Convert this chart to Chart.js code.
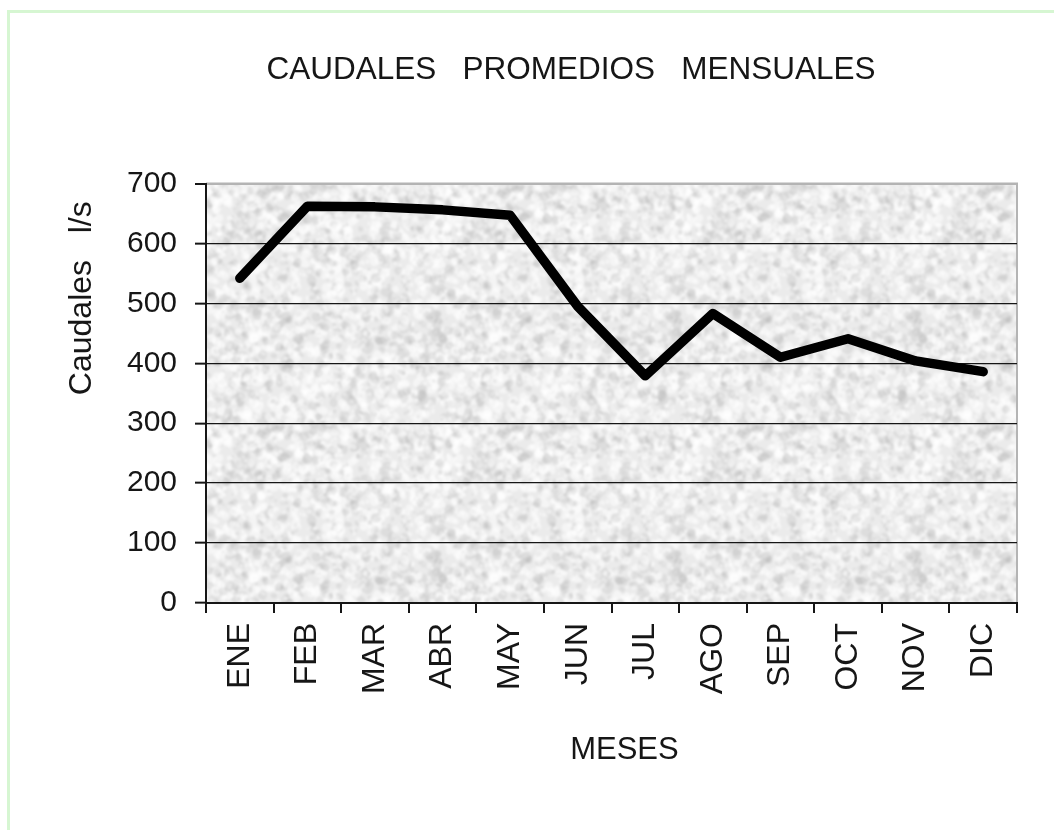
<!DOCTYPE html>
<html>
<head>
<meta charset="utf-8">
<title>Caudales promedios mensuales</title>
<script src="https://cdn.jsdelivr.net/npm/chart.js@4.4.1/dist/chart.umd.min.js"></script>
<style>
  html, body { margin: 0; padding: 0; background: #fff; }
  body { width: 1054px; height: 830px; position: relative; overflow: hidden; }
  .frame {
    position: absolute; left: 7px; top: 10px; right: -10px; bottom: -10px;
    border-top: 3px solid #d6f6d2; border-left: 3px solid #d6f6d2;
  }
  #chart { position: absolute; left: 0; top: 0; }
</style>
</head>
<body>
<div class="frame"></div>
<canvas id="chart" width="1054" height="830"></canvas>
<script>
// Chart data
const months = ['ENE', 'FEB', 'MAR', 'ABR', 'MAY', 'JUN', 'JUL', 'AGO', 'SEP', 'OCT', 'NOV', 'DIC'];
const flows = [542, 662, 661, 656, 647, 495, 379, 483, 410, 441, 404, 386];
const yTicks = [0, 100, 200, 300, 400, 500, 600, 700];

const FONT = "'Liberation Sans', Arial, sans-serif";
const INK = '#161616';

// Mottled grey fill for the plot area (style only, seamless tile)
function makeGrain() {
  const size = 240;
  const raw = document.createElement('canvas');
  raw.width = raw.height = size;
  const r = raw.getContext('2d');
  r.fillStyle = '#ebebeb';
  r.fillRect(0, 0, size, size);
  let seed = 12345;
  function next() {
    seed = (seed * 1103515245 + 12345) & 0x7fffffff;
    return seed / 0x7fffffff;
  }
  for (let i = 0; i < 2400; i++) {
    const x = next() * size, y = next() * size;
    const rad = 1 + next() * 4;
    const ry = rad * (0.5 + next());
    const rot = next() * Math.PI;
    const light = next() > 0.4;
    r.fillStyle = light ? 'rgba(255,255,255,0.5)' : 'rgba(175,175,175,0.22)';
    for (let dx = -size; dx <= size; dx += size) {
      for (let dy = -size; dy <= size; dy += size) {
        r.beginPath();
        r.ellipse(x + dx, y + dy, rad, ry, rot, 0, Math.PI * 2);
        r.fill();
      }
    }
  }
  // tile 3x3 first, then blur the whole sheet, so tile edges stay seamless
  const sheet = document.createElement('canvas');
  sheet.width = sheet.height = size * 3;
  const s = sheet.getContext('2d');
  for (let i = 0; i < 3; i++) {
    for (let j = 0; j < 3; j++) s.drawImage(raw, i * size, j * size);
  }
  const soft = document.createElement('canvas');
  soft.width = soft.height = size * 3;
  const b = soft.getContext('2d');
  b.filter = 'blur(1.2px)';
  b.drawImage(sheet, 0, 0);
  const out = document.createElement('canvas');
  out.width = out.height = size;
  out.getContext('2d').drawImage(soft, size, size, size, size, 0, 0, size, size);
  return out;
}

const plotBackground = {
  id: 'plotBackground',
  beforeDraw(chart) {
    const {ctx, chartArea: a} = chart;
    ctx.save();
    ctx.fillStyle = ctx.createPattern(makeGrain(), 'repeat');
    ctx.fillRect(a.left, a.top, a.right - a.left, a.bottom - a.top);
    // grey frame on the right side of the plot
    ctx.strokeStyle = '#b4b4b4';
    ctx.lineWidth = 2;
    ctx.beginPath();
    ctx.moveTo(a.left, a.top);
    ctx.lineTo(a.right, a.top);
    ctx.lineTo(a.right, a.bottom);
    ctx.stroke();
    ctx.restore();
  }
};

const chart = new Chart(document.getElementById('chart').getContext('2d'), {
  type: 'line',
  data: {
    labels: months,
    datasets: [{
      label: 'Caudales',
      data: flows,
      borderColor: '#000',
      borderWidth: 9.5,
      borderCapStyle: 'round',
      borderJoinStyle: 'round',
      pointRadius: 0,
      tension: 0,
      fill: false
    }]
  },
  options: {
    responsive: false,
    devicePixelRatio: 1,
    animation: false,
    layout: { padding: { left: 125, right: 37, top: 0, bottom: 0 } },
    plugins: {
      legend: { display: false },
      tooltip: { enabled: false },
      title: {
        display: true,
        text: 'CAUDALES   PROMEDIOS   MENSUALES',
        color: INK,
        font: { family: FONT, size: 31.5, weight: 'normal', lineHeight: 1.2 },
        padding: { top: 51, bottom: 94.7 }
      }
    },
    scales: {
      x: {
        type: 'category',
        offset: true,
        afterFit: function(scale) { scale.height = 227; },
        border: { color: INK, width: 2 },
        grid: {
          offset: true,
          drawOnChartArea: false,
          drawTicks: true,
          tickLength: 10,
          color: INK,
          lineWidth: 2
        },
        ticks: {
          autoSkip: false,
          maxRotation: 90,
          minRotation: 90,
          padding: 10,
          color: INK,
          font: { family: FONT, size: 32 }
        },
        title: {
          display: true,
          text: '   MESES',
          color: INK,
          font: { family: FONT, size: 31, lineHeight: 1.2 },
          padding: { top: 0, bottom: 61.4 }
        }
      },
      y: {
        min: 0,
        max: 700,
        afterFit: function(scale) { scale.width = 81; },
        afterBuildTicks: function(scale) {
          scale.ticks = yTicks.map(v => ({ value: v }));
        },
        border: { color: INK, width: 2 },
        grid: {
          color: ctx => (ctx.tick && ctx.tick.value === 700 ? '#b4b4b4' : INK),
          lineWidth: ctx => (ctx.tick && ctx.tick.value === 700 ? 2 : 1.3),
          tickColor: INK,
          tickWidth: 2,
          tickLength: 11
        },
        ticks: {
          padding: 18,
          color: INK,
          font: { family: FONT, size: 30 }
        },
        title: {
          display: true,
          text: 'Caudales   l/s  ',
          align: 'end',
          color: INK,
          font: { family: FONT, size: 32, lineHeight: 1.2 },
          padding: { top: -62.2, bottom: 0 }
        }
      }
    }
  },
  plugins: [plotBackground]
});
</script>
</body>
</html>
